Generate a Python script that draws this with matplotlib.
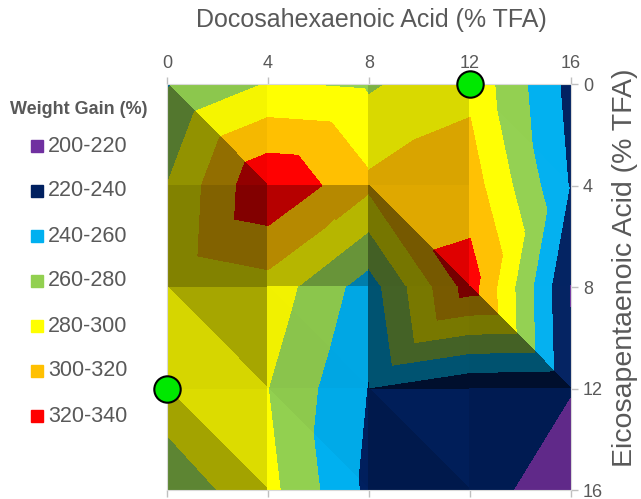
import numpy as np
import matplotlib.pyplot as plt
import matplotlib.tri as mtri
from matplotlib.colors import to_rgb

plt.rcParams['font.family'] = ['Liberation Sans', 'DejaVu Sans']

# grid of diet levels (% TFA)
dha = [0, 4, 8, 12, 16]
epa = [0, 4, 8, 12, 16]

# weight gain (%) at each grid node, rows = EPA, columns = DHA
gain = [
    [258, 281, 277, 295, 233],
    [280, 338, 304, 310, 238],
    [283, 292, 250, 329, 218],
    [285, 280, 239, 223, 221],
    [274, 286, 235, 231, 205],
]

# how each grid cell is cut in two: 'm' = top-left to bottom-right, 'a' = other diagonal
cell_split = ['maam', 'aama', 'mmam', 'mmma']

levels = [200, 220, 240, 260, 280, 300, 320, 340]
band_labels = ['200-220', '220-240', '240-260', '260-280', '280-300', '300-320', '320-340']
band_colors = ['#7030A0', '#002060', '#00B0F0', '#92D050', '#FFFF00', '#FFC000', '#FF0000']

# highlighted diets
mark_dha = [12, 0]
mark_epa = [0, 12]

text_col = '#595959'


def shade(color, f):
    rgb = np.array(to_rgb(color))
    if f <= 1:
        return tuple(rgb * f)
    return tuple(rgb + (1 - rgb) * (f - 1))


fig = plt.figure(figsize=(6.41, 4.99), dpi=100)
ax = fig.add_axes([0.2605, 0.018, 0.6303, 0.8136])

z = np.array(gain, dtype=float)
for j in range(len(epa) - 1):
    for i in range(len(dha) - 1):
        if cell_split[j][i] == 'm':
            tris = [[(i, j), (i + 1, j), (i + 1, j + 1)],
                    [(i, j), (i, j + 1), (i + 1, j + 1)]]
        else:
            tris = [[(i, j), (i + 1, j), (i, j + 1)],
                    [(i + 1, j), (i + 1, j + 1), (i, j + 1)]]
        for t in tris:
            xs = np.array([dha[a] for a, b in t], dtype=float)
            ys = np.array([epa[b] for a, b in t], dtype=float)
            zs = np.array([z[b, a] for a, b in t])
            # facet slope per grid step -> lighting
            A = np.column_stack([np.ones(3), [a for a, b in t], [b for a, b in t]])
            c0, gx, gy = np.linalg.solve(A, zs)
            f = 0.74 + 0.28 * np.tanh((gy - gx + 8) / 40)
            tri = mtri.Triangulation(xs, ys, [[0, 1, 2]])
            cs = ax.tricontourf(tri, zs, levels=levels,
                                colors=[shade(c, f) for c in band_colors])
            cs.set_edgecolor('face')
            cs.set_linewidth(0.4)

ax.plot(mark_dha, mark_epa, 'o', ms=19, mfc='#00E800', mec='black', mew=1.5,
        linestyle='none', clip_on=False, zorder=10)

ax.set_xlim(0, 16)
ax.set_ylim(16, 0)
ax.set_xticks(dha)
ax.set_yticks(epa)
ax.xaxis.set_label_position('top')
ax.yaxis.set_label_position('right')
ax.tick_params(axis='x', top=True, bottom=True, labeltop=True, labelbottom=False)
ax.tick_params(axis='y', left=False, right=True, labelleft=False, labelright=True)
ax.tick_params(colors='#BFBFBF', labelcolor=text_col, labelsize=13, length=5, width=1)
for s in ax.spines.values():
    s.set_color('#D9D9D9')
ax.set_xlabel('Docosahexaenoic Acid (% TFA)', fontsize=18, color=text_col,
              va='center', ha='center')
ax.xaxis.set_label_coords(0.505, 1.158)
ax.set_ylabel('Eicosapentaenoic Acid (% TFA)', fontsize=20.5, color=text_col,
              va='center', ha='center')
ax.yaxis.set_label_coords(1.134, 0.547)

# legend down the left side
H = 499.0
fig.text(79 / 641, 1 - 110 / H, 'Weight Gain (%)', ha='center', va='center',
         fontsize=13, fontweight='bold', color=text_col)
for k, (lab, col) in enumerate(zip(band_labels, band_colors)):
    yk = 1 - (146 + 45 * k) / H
    fig.add_artist(plt.Line2D([37 / 641], [yk], marker='s', ms=8, mfc=col, mec=col,
                              transform=fig.transFigure))
    fig.text(48 / 641, yk, lab, ha='left', va='center', fontsize=15.5, color=text_col)

fig.savefig('out.png', dpi=100)
